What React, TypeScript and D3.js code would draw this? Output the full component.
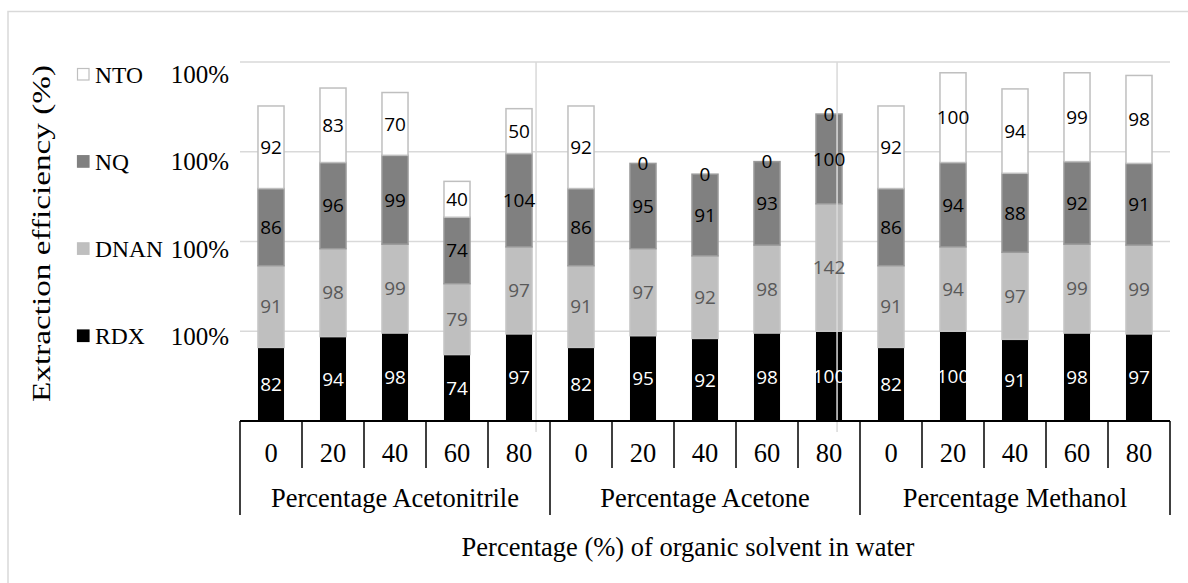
import React from "react";
import * as d3 from "d3";

const subCategories = ["0", "20", "40", "60", "80"];
const groups = ["Percentage Acetonitrile", "Percentage Acetone", "Percentage Methanol"];
const seriesNames = ["RDX", "DNAN", "NQ", "NTO"];
const rdx = [82, 94, 98, 74, 97, 82, 95, 92, 98, 100, 82, 100, 91, 98, 97];
const dnan = [91, 98, 99, 79, 97, 91, 97, 92, 98, 142, 91, 94, 97, 99, 99];
const nq = [86, 96, 99, 74, 104, 86, 95, 91, 93, 100, 86, 94, 88, 92, 91];
const nto = [92, 83, 70, 40, 50, 92, 0, 0, 0, 0, 92, 100, 94, 99, 98];
const yTicks = [100, 200, 300, 400];
const yTickLabels = ["100%", "100%", "100%", "100%"];
// stray vertical grid lines (in category units along the axis)
const strayLines = [4.775, 9.63];

const W = 1188;
const H = 583;
const M = { left: 240, right: 1170, top: 62, bottom: 421 };

const fills: Record<string, string> = { RDX: "#000000", DNAN: "#bfbfbf", NQ: "#808080", NTO: "#ffffff" };
const strokes: Record<string, string> = { RDX: "#000000", DNAN: "#c6c6c6", NQ: "#9a9a9a", NTO: "#bfbfbf" };
const labelColors: Record<string, string> = { RDX: "#ffffff", DNAN: "#595959", NQ: "#000000", NTO: "#000000" };

const serif = "'Liberation Serif', 'Times New Roman', serif";
const sans = "'Open Sans', 'Noto Sans', sans-serif";

export default function App() {
  const n = rdx.length;
  const rows = d3.range(n).map((i) => ({ i, RDX: rdx[i], DNAN: dnan[i], NQ: nq[i], NTO: nto[i] }));
  const stacked = d3.stack<any>().keys(seriesNames)(rows);

  const idx = d3.range(n).map(String);
  const x = d3.scaleBand<string>().domain(idx).range([M.left, M.right]).paddingInner(0.58).paddingOuter(0.29);
  const xc = d3.scaleBand<string>().domain(idx).range([M.left, M.right]).padding(0);
  const y = d3.scaleLinear().domain([0, 400]).range([M.bottom, M.top]);
  const step = xc.step();

  const legendY = d3.scalePoint<string>().domain(["NTO", "NQ", "DNAN", "RDX"]).range([74.5, 336]);

  const boundaries = d3.range(n + 1);

  return (
    <svg width={W} height={H} style={{ position: "absolute", left: 0, top: 0, display: "block", background: "#fff" }}>
      {/* outer border */}
      <rect x={8} y={11.5} width={W + 20} height={H + 20} fill="#fff" stroke="#d9d9d9" strokeWidth={1.5} />

      {/* gridlines */}
      {yTicks.map((t) => (
        <line key={t} x1={M.left} x2={M.right} y1={y(t)} y2={y(t)} stroke="#d9d9d9" strokeWidth={1.5} />
      ))}

      {/* bars */}
      {stacked.map((s) => (
        <g key={s.key}>
          {s.map((d, i) => (
            <rect
              key={i}
              x={x(String(i))}
              y={y(d[1])}
              width={x.bandwidth()}
              height={y(d[0]) - y(d[1])}
              fill={fills[s.key]}
              stroke={strokes[s.key]}
              strokeWidth={s.key === "RDX" ? 0 : 1.5}
            />
          ))}
        </g>
      ))}
      {/* stray lines drawn over bars */}
      {strayLines.map((u, k) => (
        <line key={"o" + k} x1={M.left + u * step} x2={M.left + u * step} y1={M.top} y2={M.bottom + 11} stroke="#d9d9d9" strokeWidth={1.5} />
      ))}

      {/* bar labels */}
      {stacked.map((s) => (
        <g key={"l" + s.key}>
          {s.map((d, i) => (
            <text
              key={i}
              x={(x(String(i)) as number) + x.bandwidth() / 2}
              y={(y(d[0]) + y(d[1])) / 2}
              dy="0.36em"
              textAnchor="middle"
              fontFamily={sans}
              fontSize={19}
              fill={labelColors[s.key]}
            >
              {(d.data as any)[s.key]}
            </text>
          ))}
        </g>
      ))}

      {/* y tick labels */}
      {yTicks.map((t, k) => (
        <text
          key={t}
          x={229}
          y={legendY(["RDX", "DNAN", "NQ", "NTO"][k]) as number}
          dy="0.35em"
          textAnchor="end"
          fontFamily={serif}
          fontSize={25}
          fill="#000"
        >
          {yTickLabels[k]}
        </text>
      ))}

      {/* legend */}
      {["NTO", "NQ", "DNAN", "RDX"].map((k) => {
        const cy = legendY(k) as number;
        return (
          <g key={k}>
            <rect x={77.5} y={cy - 6} width={11.5} height={11.5} fill={fills[k]} stroke={k === "NTO" ? "#bfbfbf" : fills[k]} strokeWidth={1.2} />
            <text x={95} y={cy} dy="0.35em" fontFamily={serif} fontSize={23.5} fill="#000">
              {k}
            </text>
          </g>
        );
      })}

      {/* y title */}
      <text
        transform={`translate(50, 233.5) rotate(-90)`}
        textAnchor="middle"
        fontFamily={serif}
        fontSize={25}
        textLength={337}
        lengthAdjust="spacingAndGlyphs"
        fill="#000"
      >
        Extraction efficiency (%)
      </text>

      {/* x axis */}
      <line x1={M.left} x2={M.right} y1={M.bottom} y2={M.bottom} stroke="#000" strokeWidth={2} />
      {boundaries.map((b) => {
        const bx = M.left + b * step;
        const isGroup = b % subCategories.length === 0;
        return (
          <line key={b} x1={bx} x2={bx} y1={M.bottom} y2={isGroup ? 515 : 468} stroke="#000" strokeWidth={1.5} />
        );
      })}
      {idx.map((id, i) => (
        <text
          key={id}
          x={(xc(id) as number) + step / 2}
          y={462}
          textAnchor="middle"
          fontFamily={serif}
          fontSize={26.5}
          fill="#000"
        >
          {subCategories[i % subCategories.length]}
        </text>
      ))}
      {groups.map((g, gi) => (
        <text
          key={g}
          x={M.left + (gi * subCategories.length + subCategories.length / 2) * step}
          y={507}
          textAnchor="middle"
          fontFamily={serif}
          fontSize={26.5}
          fill="#000"
        >
          {g}
        </text>
      ))}

      {/* x title */}
      <text x={688} y={556} textAnchor="middle" fontFamily={serif} fontSize={26.5} fill="#000">
        Percentage (%) of organic solvent in water
      </text>
    </svg>
  );
}
